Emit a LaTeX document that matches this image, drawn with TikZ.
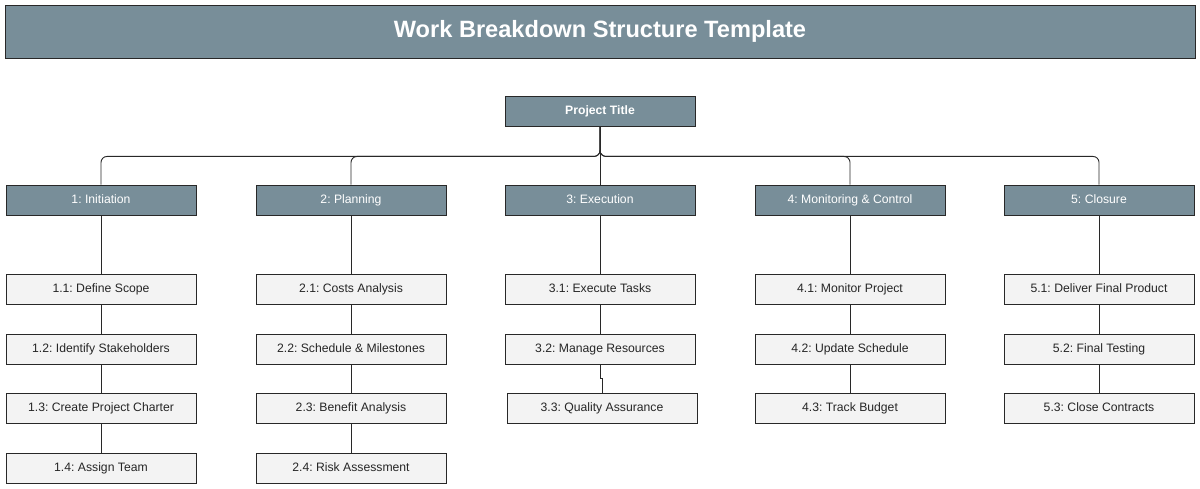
\documentclass[tikz,border=0pt]{standalone}
\usepackage{fontspec}
\setmainfont{Liberation Sans}
\usepackage{xcolor}
\definecolor{slateblue}{RGB}{120,142,153}
\definecolor{lightgrey}{RGB}{243,243,243}
\definecolor{darkline}{RGB}{40,40,40}
\frenchspacing
\tikzset{
  phasebox/.style={rectangle, draw=darkline, fill=slateblue, line width=0.9pt, minimum width=190pt, minimum height=30pt, inner sep=0pt, text height=9.6pt, text depth=2.2pt, text=white, font=\fontsize{12.2}{14}\selectfont},
  taskbox/.style={rectangle, draw=darkline, fill=lightgrey, line width=0.9pt, minimum width=190pt, minimum height=30pt, inner sep=0pt, text height=9.6pt, text depth=2.2pt, text=black!85, font=\fontsize{12.2}{14}\selectfont},
  link/.style={draw=darkline, line width=0.9pt}
}
\begin{document}
\begin{tikzpicture}[x=1pt, y=-1pt]
\useasboundingbox (0,0) rectangle (1200,489);
\node[rectangle, draw=darkline, fill=slateblue, line width=0.9pt, minimum width=1190pt, minimum height=53pt, inner sep=0pt] (banner) at (600,31.5) {\textcolor{white}{\fontsize{23.6}{28}\selectfont\bfseries Work Breakdown Structure Template}};
\node[phasebox, font=\fontsize{12.2}{14}\selectfont\bfseries] (project) at (600,111) {Project Title};

\node[phasebox] (p1) at (101,200) {1: Initiation};
\node[phasebox] (p2) at (351,200) {2: Planning};
\node[phasebox] (p3) at (600,200) {3: Execution};
\node[phasebox] (p4) at (850,200) {4: Monitoring \& Control};
\node[phasebox] (p5) at (1099,200) {5: Closure};

\node[taskbox] (t11) at (101,289) {1.1: Define Scope};
\node[taskbox] (t12) at (101,349) {1.2: Identify Stakeholders};
\node[taskbox] (t13) at (101,408) {1.3: Create Project Charter};
\node[taskbox] (t14) at (101,468) {1.4: Assign Team};

\node[taskbox] (t21) at (351,289) {2.1: Costs Analysis};
\node[taskbox] (t22) at (351,349) {2.2: Schedule \& Milestones};
\node[taskbox] (t23) at (351,408) {2.3: Benefit Analysis};
\node[taskbox] (t24) at (351,468) {2.4: Risk Assessment};

\node[taskbox] (t31) at (600,289) {3.1: Execute Tasks};
\node[taskbox] (t32) at (600,349) {3.2: Manage Resources};
\node[taskbox] (t33) at (602,408) {3.3: Quality Assurance};

\node[taskbox] (t41) at (850,289) {4.1: Monitor Project};
\node[taskbox] (t42) at (850,349) {4.2: Update Schedule};
\node[taskbox] (t43) at (850,408) {4.3: Track Budget};

\node[taskbox] (t51) at (1099,289) {5.1: Deliver Final Product};
\node[taskbox] (t52) at (1099,349) {5.2: Final Testing};
\node[taskbox] (t53) at (1099,408) {5.3: Close Contracts};

\draw[link, rounded corners=6pt] (project.south) -- ++(0,30) -| (p1.north);
\draw[link, rounded corners=6pt] (project.south) -- ++(0,30) -| (p2.north);
\draw[link] (project.south) -- (p3.north);
\draw[link, rounded corners=6pt] (project.south) -- ++(0,30) -| (p4.north);
\draw[link, rounded corners=6pt] (project.south) -- ++(0,30) -| (p5.north);

\draw[link] (p1.south) -- (t11.north);
\draw[link] (t11.south) -- (t12.north);
\draw[link] (t12.south) -- (t13.north);
\draw[link] (t13.south) -- (t14.north);

\draw[link] (p2.south) -- (t21.north);
\draw[link] (t21.south) -- (t22.north);
\draw[link] (t22.south) -- (t23.north);
\draw[link] (t23.south) -- (t24.north);

\draw[link] (p3.south) -- (t31.north);
\draw[link] (t31.south) -- (t32.north);
\draw[link] (t32.south) -- ++(0,14) -| (t33.north);

\draw[link] (p4.south) -- (t41.north);
\draw[link] (t41.south) -- (t42.north);
\draw[link] (t42.south) -- (t43.north);

\draw[link] (p5.south) -- (t51.north);
\draw[link] (t51.south) -- (t52.north);
\draw[link] (t52.south) -- (t53.north);
\end{tikzpicture}
\end{document}
